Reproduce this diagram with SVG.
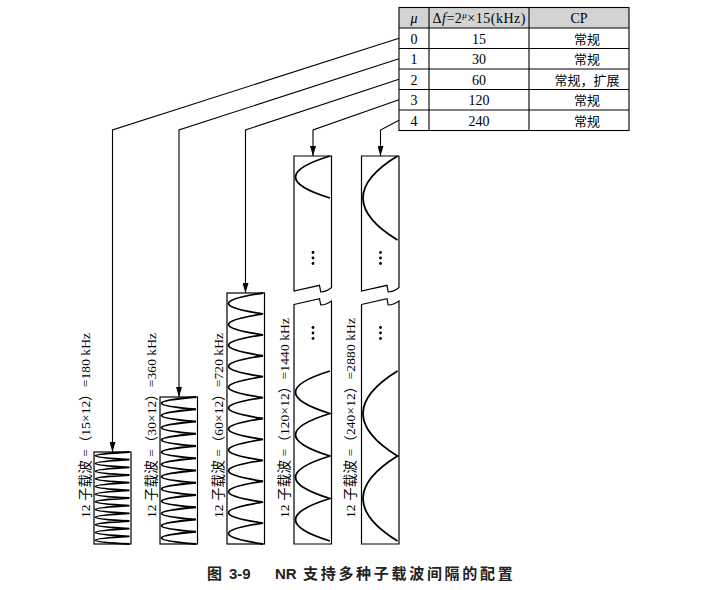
<svg xmlns="http://www.w3.org/2000/svg" width="708" height="590" viewBox="0 0 708 590">
<style>
.bg{fill:#fff}
.box{fill:#fff;stroke:#000;stroke-width:1.2}
.lobe{fill:none;stroke:#000;stroke-width:1.8}
.con{fill:none;stroke:#000;stroke-width:1.1}
.tl{stroke:#000;stroke-width:1.1;fill:none}
.t{font-family:"Liberation Serif","Noto Sans CJK SC",serif;font-size:14px;fill:#000}
.c{font-family:"Liberation Serif","Noto Sans CJK SC",serif;font-size:13px;fill:#000}
.lab{font-family:"Liberation Serif","Noto Sans CJK SC",serif;font-size:13.5px;fill:#000}
.cap{font-family:"Liberation Sans","Noto Sans CJK SC",sans-serif;font-size:15px;font-weight:bold;fill:#222}
</style>
<defs>
<marker id="arr" viewBox="0 0 10 6" refX="10" refY="3" markerWidth="10" markerHeight="6" markerUnits="userSpaceOnUse" orient="auto">
<path d="M0,0 L10,3 L0,6 Z" fill="#000"/>
</marker>
<g id="dots3"><circle cx="0" cy="-5.5" r="1.4"/><circle cx="0" cy="0" r="1.4"/><circle cx="0" cy="5.5" r="1.4"/></g>
</defs>
<rect class="bg" x="0" y="0" width="708" height="590"/>

<g id="table">
<rect x="399" y="7.5" width="230" height="20.5" fill="#d3d3d3"/>
<rect x="399" y="7.5" width="230" height="123" class="tl"/>
<path class="tl" d="M399,28H629M399,48.5H629M399,69H629M399,89.5H629M399,110H629M429,7.5V130.5M529,7.5V130.5"/>
<text class="t" x="414" y="23" text-anchor="middle" font-style="italic">μ</text>
<text class="t" x="479" y="23" text-anchor="middle" textLength="93">Δ<tspan font-style="italic">f</tspan>=2<tspan font-size="9" dy="-5" font-style="italic">μ</tspan><tspan dy="5">×15(kHz)</tspan></text>
<text class="t" x="579" y="23" text-anchor="middle">CP</text>
<text class="t" x="414" y="43.5" text-anchor="middle">0</text>
<text class="t" x="479" y="43.5" text-anchor="middle">15</text>
<text class="c" x="587" y="43.5" text-anchor="middle">常规</text>
<text class="t" x="414" y="64" text-anchor="middle">1</text>
<text class="t" x="479" y="64" text-anchor="middle">30</text>
<text class="c" x="587" y="64" text-anchor="middle">常规</text>
<text class="t" x="414" y="84.5" text-anchor="middle">2</text>
<text class="t" x="479" y="84.5" text-anchor="middle">60</text>
<text class="c" x="587" y="84.5" text-anchor="middle">常规，扩展</text>
<text class="t" x="414" y="105" text-anchor="middle">3</text>
<text class="t" x="479" y="105" text-anchor="middle">120</text>
<text class="c" x="587" y="105" text-anchor="middle">常规</text>
<text class="t" x="414" y="125.5" text-anchor="middle">4</text>
<text class="t" x="479" y="125.5" text-anchor="middle">240</text>
<text class="c" x="587" y="125.5" text-anchor="middle">常规</text>
</g>

<g id="connectors">
<path class="con" d="M399,38.2 L112.5,130 V452" marker-end="url(#arr)"/>
<path class="con" d="M399,58.7 L179,130 V397" marker-end="url(#arr)"/>
<path class="con" d="M399,79.2 L245.5,130 V293" marker-end="url(#arr)"/>
<path class="con" d="M399,99.7 L313,130 V156" marker-end="url(#arr)"/>
<path class="con" d="M399,120.2 L380.5,130 V156" marker-end="url(#arr)"/>
</g>

<g id="box15">
<rect class="box" x="94" y="452" width="37" height="92"/>
<path class="lobe" d="M129.5,452 Q61.5,455.83 129.5,459.67 Q61.5,463.5 129.5,467.33 Q61.5,471.17 129.5,475 Q61.5,478.83 129.5,482.67 Q61.5,486.5 129.5,490.33 Q61.5,494.17 129.5,498 Q61.5,501.83 129.5,505.67 Q61.5,509.5 129.5,513.33 Q61.5,517.17 129.5,521 Q61.5,524.83 129.5,528.67 Q61.5,532.5 129.5,536.33 Q61.5,540.17 129.5,544"/>
<text class="lab" transform="translate(90,518) rotate(-90)" textLength="185">12 子载波 =（15×12）=180 kHz</text>
</g>

<g id="box30">
<rect class="box" x="160" y="397" width="37.5" height="147"/>
<path class="lobe" d="M196,397 Q127,403.13 196,409.25 Q127,415.38 196,421.5 Q127,427.63 196,433.75 Q127,439.88 196,446 Q127,452.13 196,458.25 Q127,464.38 196,470.5 Q127,476.63 196,482.75 Q127,488.88 196,495 Q127,501.13 196,507.25 Q127,513.38 196,519.5 Q127,525.63 196,531.75 Q127,537.88 196,544"/>
<text class="lab" transform="translate(156,518) rotate(-90)" textLength="185">12 子载波 =（30×12）=360 kHz</text>
</g>

<g id="box60">
<rect class="box" x="227" y="293" width="37.5" height="251"/>
<path class="lobe" d="M263,293 Q194,303.46 263,313.92 Q194,324.38 263,334.83 Q194,345.29 263,355.75 Q194,366.21 263,376.67 Q194,387.13 263,397.58 Q194,408.04 263,418.5 Q194,428.96 263,439.42 Q194,449.88 263,460.33 Q194,470.79 263,481.25 Q194,491.71 263,502.17 Q194,512.63 263,523.08 Q194,533.54 263,544"/>
<text class="lab" transform="translate(222.5,518) rotate(-90)" textLength="185">12 子载波 =（60×12）=720 kHz</text>
</g>

<g id="box120">
<path class="box" d="M294,156 H331.5 V287.5 Q326,292 320.7,292 L319.5,285.3 L294,291 Z"/>
<path class="box" d="M294,304.5 L319.5,298.7 L320.7,305 Q326,305 331.5,301 V544 H294 Z"/>
<path class="lobe" d="M330,156 Q261,177 330,198"/>
<path class="lobe" d="M330,371 Q261,392.25 330,413.5 Q261,434.75 330,456 Q261,477.25 330,498.5 Q261,519.75 330,541"/>
<use href="#dots3" x="313" y="258"/>
<use href="#dots3" x="313" y="333"/>
<text class="lab" transform="translate(289,518) rotate(-90)" textLength="200">12 子载波 =（120×12）=1440 kHz</text>
</g>

<g id="box240">
<path class="box" d="M361.5,156 H399 V287.5 Q393.5,292 388.2,292 L387,285.3 L361.5,291 Z"/>
<path class="box" d="M361.5,304.5 L387,298.7 L388.2,305 Q393.5,305 399,301 V544 H361.5 Z"/>
<path class="lobe" d="M397.5,156 Q328.5,198 397.5,240"/>
<path class="lobe" d="M397.5,371 Q328.5,413.5 397.5,456 Q328.5,498.5 397.5,541"/>
<use href="#dots3" x="380.5" y="258"/>
<use href="#dots3" x="380.5" y="333"/>
<text class="lab" transform="translate(355,518) rotate(-90)" textLength="200">12 子载波 =（240×12）=2880 kHz</text>
</g>

<g id="caption">
<text class="cap" x="207" y="579">图</text>
<text class="cap" x="229" y="579">3-9</text>
<text class="cap" x="275" y="579">NR</text>
<text class="cap" x="303" y="579" letter-spacing="2.7">支持多种子载波间隔的配置</text>
</g>
</svg>
